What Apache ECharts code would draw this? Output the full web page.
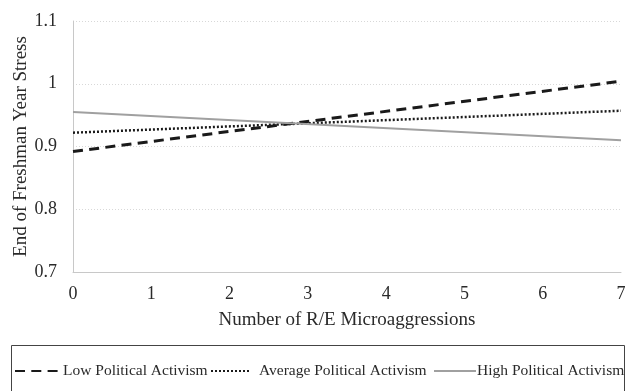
<!DOCTYPE html>
<html><head><meta charset="utf-8">
<script src="https://cdn.jsdelivr.net/npm/echarts@6/dist/echarts.min.js"></script>
<style>html,body{margin:0;padding:0;background:#fff}#c{width:628px;height:391px}</style>
</head><body><div id="c"></div>
<script>
const xValues = [0, 7];
const lowActivism = [0.892, 1.004];
const avgActivism = [0.922, 0.957];
const highActivism = [0.955, 0.910];
const seriesNames = ['Low Political Activism', 'Average Political Activism', 'High Political Activism'];
const yTicks = [0.7, 0.8, 0.9, 1, 1.1];

const font = 'Liberation Serif';
const pairs = a => xValues.map((x, i) => [x, a[i]]);
const legendText = pad => ({fontFamily: font, fontSize: 15.5, color: '#2a2a2a', padding: [0, 0, 0, pad]});
const chart = echarts.init(document.getElementById('c'), null, {renderer: 'canvas'});
chart.setOption({
  animation: false,
  backgroundColor: '#fff',
  grid: {left: 73, right: 7, top: 21, bottom: 119, containLabel: false, outerBoundsMode: 'none'},
  xAxis: {
    type: 'value', min: 0, max: 7, interval: 1,
    name: 'Number of R/E Microaggressions', nameLocation: 'middle', nameGap: 39,
    nameMoveOverlap: false,
    nameTextStyle: {fontFamily: font, fontSize: 19, color: '#2a2a2a'},
    axisLine: {show: true, lineStyle: {color: '#c8c8c8', width: 1}},
    axisTick: {show: false},
    splitLine: {show: false},
    axisLabel: {fontFamily: font, fontSize: 18, color: '#2a2a2a', margin: 13}
  },
  yAxis: {
    type: 'value', min: 0.7, max: 1.1, interval: 0.1,
    name: 'End of Freshman Year Stress', nameLocation: 'middle', nameGap: 42,
    nameMoveOverlap: false,
    nameTextStyle: {fontFamily: font, fontSize: 19, color: '#2a2a2a'},
    axisLine: {show: true, lineStyle: {color: '#c8c8c8', width: 1}},
    axisTick: {show: false},
    splitLine: {show: true, lineStyle: {color: '#d8d8d8', type: [1, 2], width: 1}},
    axisLabel: {fontFamily: font, fontSize: 18, color: '#2a2a2a', margin: 16,
      formatter: v => { const t = yTicks.find(k => Math.abs(k - v) < 1e-6); return String(t !== undefined ? t : v); }}
  },
  legend: [
    {left: 14, top: 363, padding: 0, itemWidth: 48, itemHeight: 12, itemStyle: {opacity: 0},
      textStyle: legendText(-5), data: [seriesNames[0]]},
    {left: 210, top: 363, padding: 0, itemWidth: 38, itemHeight: 12, itemStyle: {opacity: 0},
      textStyle: legendText(5), data: [seriesNames[1]]},
    {left: 433, top: 363, padding: 0, itemWidth: 42, itemHeight: 12, itemStyle: {opacity: 0},
      textStyle: legendText(-4), data: [seriesNames[2]]}
  ],
  graphic: [{type: 'rect', shape: {x: 11.5, y: 345.5, width: 613, height: 50},
    style: {fill: 'none', stroke: '#444', lineWidth: 1}}],
  series: [
    {name: seriesNames[0], type: 'line', data: pairs(lowActivism), symbol: 'none',
      lineStyle: {color: '#1a1a1a', width: 3, type: [10, 6.3]}, itemStyle: {color: '#1a1a1a'}},
    {name: seriesNames[1], type: 'line', data: pairs(avgActivism), symbol: 'none',
      lineStyle: {color: '#1a1a1a', width: 2.5, type: [2, 2]}, itemStyle: {color: '#1a1a1a'}},
    {name: seriesNames[2], type: 'line', data: pairs(highActivism), symbol: 'none',
      lineStyle: {color: '#a0a0a0', width: 2}, itemStyle: {color: '#a0a0a0'}}
  ]
});
</script></body></html>
